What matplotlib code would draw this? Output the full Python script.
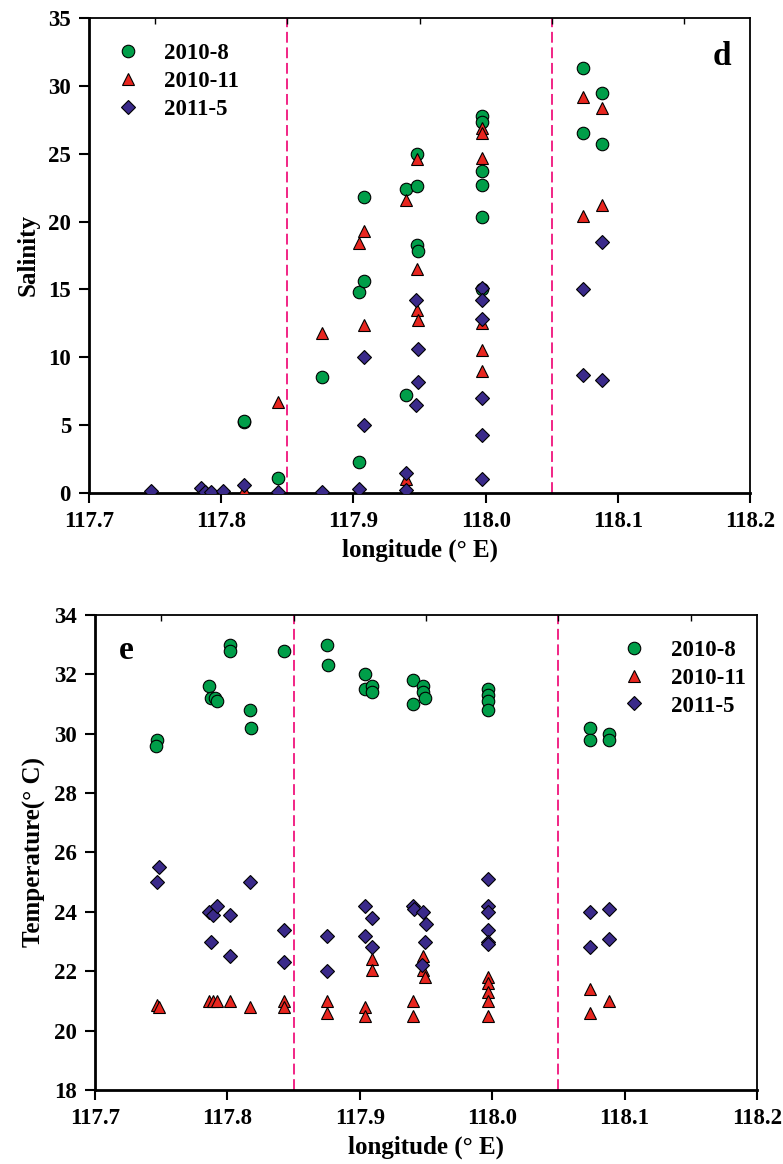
import matplotlib
matplotlib.use("Agg")
import matplotlib.pyplot as plt
from matplotlib.ticker import FixedLocator

plt.rcParams["font.family"] = ["Liberation Serif", "DejaVu Serif"]
plt.rcParams["font.weight"] = "bold"

# ---- salinity (panel d) ----
sal_aug_x = [117.817, 117.817, 117.843, 117.876, 117.904, 117.908, 117.904, 117.908,
             117.940, 117.940, 117.948, 117.948, 117.948, 117.949,
             117.997, 117.997, 117.997, 117.997, 117.997, 117.997,
             118.074, 118.074, 118.088, 118.088]
sal_aug_y = [5.2, 5.3, 1.1, 8.55, 2.3, 21.8, 14.8, 15.6,
             7.25, 22.4, 25.0, 22.6, 18.3, 17.8,
             27.8, 27.3, 23.7, 22.7, 20.3, 15.0,
             31.3, 26.5, 29.5, 25.7]

sal_nov_x = [117.817, 117.843, 117.876, 117.904, 117.908, 117.908,
             117.940, 117.940, 117.948, 117.948, 117.948, 117.949,
             117.997, 117.997, 117.997, 117.997, 117.997, 117.997,
             118.074, 118.074, 118.088, 118.088]
sal_nov_y = [0.2, 6.7, 11.8, 18.45, 19.3, 12.4,
             21.6, 1.0, 24.6, 16.5, 13.5, 12.75,
             26.9, 26.5, 24.7, 12.5, 10.5, 9.0,
             29.2, 20.4, 28.4, 21.2]

sal_may_x = [117.747, 117.785, 117.788, 117.792, 117.801, 117.817, 117.843, 117.876,
             117.904, 117.908, 117.908, 117.940, 117.940,
             117.947, 117.949, 117.949, 117.947,
             117.997, 117.997, 117.997, 117.997, 117.997, 117.997,
             118.074, 118.074, 118.088, 118.088]
sal_may_y = [0.15, 0.35, 0.1, 0.1, 0.15, 0.55, 0.1, 0.1,
             0.3, 10.0, 5.0, 1.5, 0.2,
             14.2, 10.6, 8.2, 6.5,
             15.1, 14.2, 12.85, 7.0, 4.25, 1.0,
             15.0, 8.7, 18.5, 8.35]

# ---- temperature (panel e) ----
tmp_aug_x = [117.747, 117.746, 117.786, 117.788, 117.791, 117.792, 117.802, 117.802,
             117.817, 117.818, 117.843, 117.875, 117.876,
             117.904, 117.904, 117.909, 117.909,
             117.940, 117.948, 117.948, 117.949, 117.940,
             117.997, 117.997, 117.997, 117.997,
             118.074, 118.074, 118.088, 118.088]
tmp_aug_y = [29.8, 29.6, 31.6, 31.2, 31.2, 31.1, 33.0, 32.8,
             30.8, 30.2, 32.8, 33.0, 32.3,
             32.0, 31.5, 31.6, 31.4,
             31.8, 31.6, 31.4, 31.2, 31.0,
             31.5, 31.3, 31.1, 30.8,
             30.2, 29.8, 30.0, 29.8]

tmp_nov_x = [117.747, 117.748, 117.786, 117.789, 117.792, 117.802, 117.817,
             117.843, 117.843, 117.875, 117.875,
             117.909, 117.909, 117.904, 117.904,
             117.948, 117.948, 117.949, 117.940, 117.940,
             117.997, 117.997, 117.997, 117.997, 117.997,
             118.074, 118.074, 118.088]
tmp_nov_y = [20.85, 20.8, 21.0, 21.0, 21.0, 21.0, 20.8,
             21.0, 20.8, 21.0, 20.6,
             22.4, 22.05, 20.8, 20.5,
             22.5, 22.05, 21.8, 21.0, 20.5,
             21.8, 21.6, 21.3, 21.0, 20.5,
             21.4, 20.6, 21.0]

tmp_may_x = [117.748, 117.747, 117.817, 117.786, 117.789, 117.792, 117.802, 117.788,
             117.802, 117.843, 117.843, 117.875, 117.875,
             117.904, 117.909, 117.904, 117.909,
             117.940, 117.941, 117.948, 117.950, 117.949, 117.947,
             117.997, 117.997, 117.997, 117.997, 117.997, 117.997,
             118.074, 118.074, 118.088, 118.088]
tmp_may_y = [25.5, 25.0, 25.0, 24.0, 23.9, 24.2, 23.9, 23.0,
             22.5, 23.4, 22.3, 23.2, 22.0,
             24.2, 23.8, 23.2, 22.8,
             24.2, 24.1, 24.0, 23.6, 23.0, 22.2,
             25.1, 24.2, 24.0, 23.4, 23.0, 22.9,
             24.0, 22.8, 24.1, 23.1]

labels = ["2010-8", "2010-11", "2011-5"]
x_ticks = [117.7, 117.8, 117.9, 118.0, 118.1, 118.2]
top_ticks = [117.75, 117.85, 117.95, 118.05, 118.15]
bounds = [117.85, 118.05]

GREEN = "#009E49"
RED = "#E8261F"
PURPLE = "#3A2A8A"
PINK = "#F0147C"


def draw_panel(ax, xs, ys, ylim, yticks, ylabel, letter, letter_pos, leg_anchor):
    for xb in bounds:
        ax.axvline(xb, color=PINK, lw=1.3, dashes=(6, 2.6), zorder=1)
    styles = [("o", GREEN, 9), ("^", RED, 9), ("D", PURPLE, 7.6)]
    for (m, c, s), x, y, lab in zip(styles, xs, ys, labels):
        ax.plot(x, y, ls="none", marker=m, ms=s, mfc=c, mec="black", mew=0.8,
                label=lab, zorder=3)
    ax.set_xlim(117.7, 118.2)
    ax.set_ylim(*ylim)
    ax.set_xticks(x_ticks)
    ax.set_xticklabels([f"{v:.1f}" for v in x_ticks])
    ax.set_yticks(yticks)
    ax.xaxis.set_minor_locator(FixedLocator(top_ticks))
    ax.tick_params(which="major", direction="out", length=7, width=1.5,
                   labelsize=16.5, top=False, right=False, pad=6)
    ax.tick_params(which="minor", axis="x", direction="in", length=4, width=1,
                   top=True, bottom=False)
    for side in ["left", "bottom"]:
        ax.spines[side].set_linewidth(2.0)
    for side in ["top", "right"]:
        ax.spines[side].set_linewidth(1.3)
    ax.set_xlabel("longitude (° E)", fontsize=18, fontweight="bold", labelpad=5)
    ax.set_ylabel(ylabel, fontsize=18, fontweight="bold", labelpad=6)
    ax.text(letter_pos[0], letter_pos[1], letter, transform=ax.transAxes,
            fontsize=24, fontweight="bold", ha="center", va="center")
    ax.legend(loc="upper left", bbox_to_anchor=leg_anchor, frameon=False,
              fontsize=16.5, handlelength=1.0, handletextpad=1.1,
              labelspacing=0.3, borderpad=0, borderaxespad=0)


fig = plt.figure(figsize=(7.83, 11.64), dpi=100)
ax1 = fig.add_axes([0.1137, 0.5765, 0.8442, 0.4081])
ax2 = fig.add_axes([0.1213, 0.0636, 0.8455, 0.4081])

draw_panel(ax1, [sal_aug_x, sal_nov_x, sal_may_x], [sal_aug_y, sal_nov_y, sal_may_y],
           (0, 35), range(0, 36, 5), "Salinity", "d", (0.958, 0.918), (0.041, 0.947))
draw_panel(ax2, [tmp_aug_x, tmp_nov_x, tmp_may_x], [tmp_aug_y, tmp_nov_y, tmp_may_y],
           (18, 34), range(18, 35, 2), "Temperature(° C)", "e", (0.047, 0.926),
           (0.797, 0.948))

fig.savefig("out.png", dpi=100, facecolor="white")
